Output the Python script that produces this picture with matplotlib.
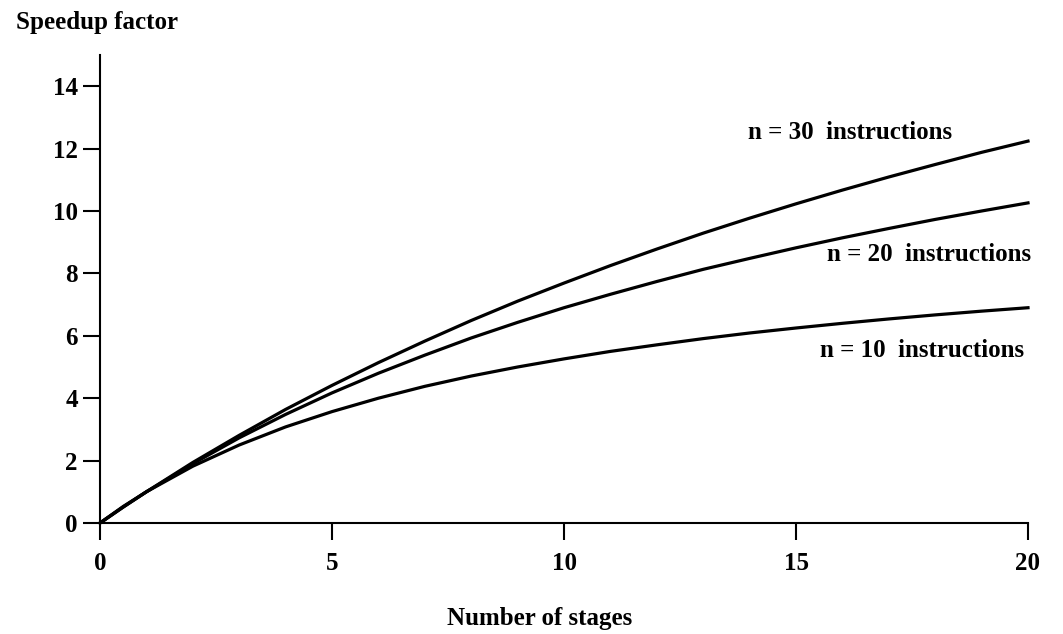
import matplotlib.pyplot as plt

# values
stages = [0, 0.5, 1, 2, 3, 4, 5, 6, 7, 8, 9, 10, 11, 12, 13, 14, 15, 16, 17, 18, 19, 20]
speedup_n10 = [0, 0.53, 1.0, 1.82, 2.5, 3.08, 3.57, 4.0, 4.38, 4.71, 5.0, 5.26,
               5.5, 5.71, 5.91, 6.09, 6.25, 6.4, 6.54, 6.67, 6.79, 6.9]
speedup_n20 = [0, 0.51, 1.0, 1.9, 2.73, 3.48, 4.17, 4.8, 5.38, 5.93, 6.43, 6.9,
               7.33, 7.74, 8.13, 8.48, 8.82, 9.14, 9.44, 9.73, 10.0, 10.26]
speedup_n30 = [0, 0.51, 1.0, 1.94, 2.81, 3.64, 4.41, 5.14, 5.83, 6.49, 7.11, 7.69,
               8.25, 8.78, 9.29, 9.77, 10.23, 10.67, 11.09, 11.49, 11.88, 12.24]

labels = ["n = 10  instructions", "n = 20  instructions", "n = 30  instructions"]
label_pos = [(15.52, 5.54), (15.67, 8.59), (13.97, 12.53)]

x_ticks = [0, 5, 10, 15, 20]
y_ticks = [0, 2, 4, 6, 8, 10, 12, 14]

plt.rcParams['font.family'] = ['Liberation Serif', 'DejaVu Serif']
plt.rcParams['font.weight'] = 'bold'

fig = plt.figure(figsize=(10.63, 6.34), dpi=100)
ax = fig.add_axes([100 / 1063, 1 - 523 / 634, 928 / 1063, 468 / 634])

for ys in (speedup_n10, speedup_n20, speedup_n30):
    ax.plot(stages, ys, color='black', lw=2.3, clip_on=False)

for txt, (tx, ty) in zip(labels, label_pos):
    ax.text(tx, ty, txt, fontsize=18, fontweight='bold', va='center', ha='left')

ax.set_xlim(0, 20)
ax.set_ylim(0, 15)
ax.set_xticks(x_ticks)
ax.set_yticks(y_ticks)
ax.spines['top'].set_visible(False)
ax.spines['right'].set_visible(False)
for s in ('left', 'bottom'):
    ax.spines[s].set_linewidth(1.5)
ax.tick_params(axis='both', direction='out', length=12, width=1.5, labelsize=18)
ax.tick_params(axis='x', pad=9)
ax.tick_params(axis='y', pad=4)
for lab in ax.get_xticklabels() + ax.get_yticklabels():
    lab.set_fontweight('bold')

fig.text(16 / 1063, 1 - 23 / 634, "Speedup factor", fontsize=18, fontweight='bold',
         ha='left', va='center')
fig.text(540 / 1063, 1 - 618 / 634, "Number of stages", fontsize=18, fontweight='bold',
         ha='center', va='center')

fig.savefig('out.png', dpi=100)
